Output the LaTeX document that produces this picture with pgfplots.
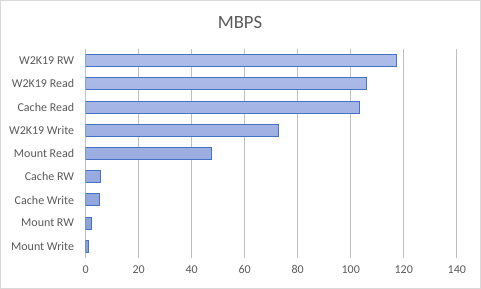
\documentclass[border=0pt]{standalone}
\usepackage{pgfplots}
\pgfplotsset{compat=1.18}
\usepackage{fontspec}
\setmainfont{Carlito}
\definecolor{txt}{HTML}{595959}
\definecolor{grid}{HTML}{D9D9D9}
\definecolor{barline}{HTML}{4472C4}
\definecolor{bartop}{HTML}{AEBCE8}
\definecolor{barbot}{HTML}{8A9FD9}
\begin{document}
\begin{tikzpicture}[x=1pt,y=1pt]
\draw[grid,line width=0.8pt] (0.5,0.5) rectangle (480.5,288.5);
\node[text=txt,font=\fontsize{18.7}{20}\selectfont] at (240,266) {MBPS};
\begin{axis}[
  at={(85.7pt,31pt)}, anchor=south west,
  scale only axis, width=371pt, height=209pt,
  xbar, bar width=12pt,
  xmin=0, xmax=140, xtick={0,20,...,140},
  ymin=-0.5, ymax=8.5,
  ytick={0,...,8},
  yticklabels={Mount Write,Mount RW,Cache Write,Cache RW,Mount Read,W2K19 Write,Cache Read,W2K19 Read,W2K19 RW},
  axis line style={draw=none},
  major tick length=0pt,
  xmajorgrids, grid style={grid,line width=0.8pt},
  ymajorgrids=false,
  tick label style={text=txt,font=\fontsize{12}{14}\selectfont},
  /pgf/number format/assume math mode=true,
  xticklabel style={yshift=-4pt},
  yticklabel style={xshift=-8pt},
]
\addplot[draw=barline, line width=1pt, top color=bartop, bottom color=barbot] coordinates {
 (1.1,0) (2.1,1) (5.2,2) (5.5,3) (47.5,4) (72.8,5) (103.4,6) (106.1,7) (117.1,8)
};
\end{axis}
\end{tikzpicture}
\end{document}
